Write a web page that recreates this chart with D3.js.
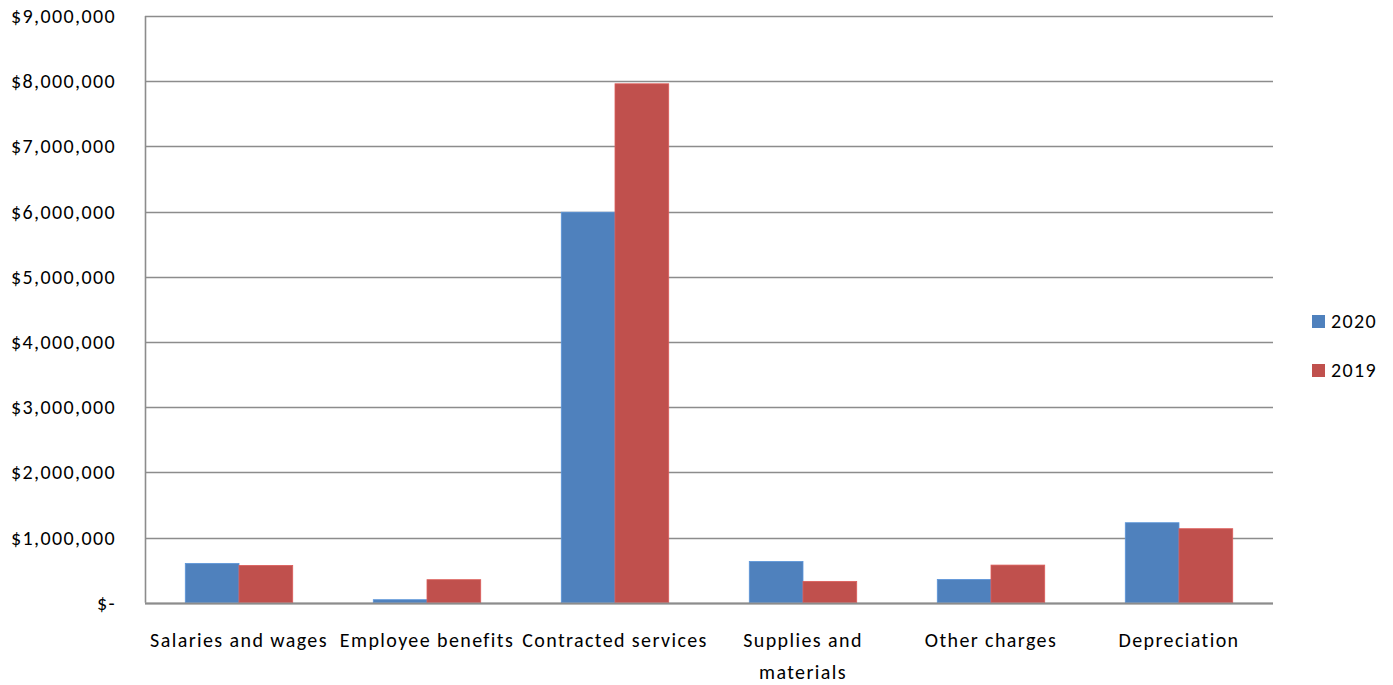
<!DOCTYPE html>
<html>
<head>
<meta charset="utf-8">
<script src="https://cdn.jsdelivr.net/npm/d3@7"></script>
<style>
  body { margin: 0; background: #fff; }
  text { font-family: "Carlito", "Liberation Sans Narrow", "Open Sans", sans-serif; fill: #000; letter-spacing: 1.4px; }
</style>
</head>
<body>
<div id="chart"></div>
<script>
// categories and series
var categories = ["Salaries and wages", "Employee benefits", "Contracted services", "Supplies and materials", "Other charges", "Depreciation"];
var labelLines = [["Salaries and wages"], ["Employee benefits"], ["Contracted services"], ["Supplies and", "materials"], ["Other charges"], ["Depreciation"]];
var seriesNames = ["2020", "2019"];
var values2020 = [603000, 46000, 5990000, 633000, 357000, 1227000];
var values2019 = [572000, 353000, 7960000, 327000, 577000, 1135000];
var yTicks = [0, 1000000, 2000000, 3000000, 4000000, 5000000, 6000000, 7000000, 8000000, 9000000];
var colors = ["#4F81BD", "#C0504D"];

var width = 1393, height = 685;
var margin = {left: 145, right: 120, top: 16, bottom: 82};

var svg = d3.select("#chart").append("svg")
  .attr("width", width)
  .attr("height", height);

var x0 = d3.scaleBand()
  .domain(categories)
  .range([margin.left, width - margin.right]);

// Excel style: gap width 150% -> bars take 2 of 3.5 units
var x1 = d3.scaleBand()
  .domain(seriesNames)
  .range([0, x0.bandwidth() * 2 / 3.5]);

var y = d3.scaleLinear()
  .domain([0, 9000000])
  .range([height - margin.bottom - 0.3, margin.top]);

var fmt = d3.format(",");

// gridlines
svg.append("g")
  .selectAll("line")
  .data(yTicks)
  .enter()
  .append("line")
  .attr("x1", margin.left)
  .attr("x2", width - margin.right)
  .attr("y1", function(d) { return Math.round(y(d)) + 0.5; })
  .attr("y2", function(d) { return Math.round(y(d)) + 0.5; })
  .attr("stroke", "#8c8c8c")
  .attr("stroke-width", 1.6);

// y axis labels
svg.append("g")
  .selectAll("text")
  .data(yTicks)
  .enter()
  .append("text")
  .attr("x", 116)
  .attr("y", function(d) { return y(d) + 7; })
  .attr("text-anchor", "end")
  .style("font-size", "20px")
  .text(function(d) { return d === 0 ? "$-" : "$" + fmt(d); });

// bars
var rows = categories.map(function(c, i) {
  return {cat: c, vals: [values2020[i], values2019[i]]};
});

var groups = svg.append("g")
  .selectAll("g")
  .data(rows)
  .enter()
  .append("g")
  .attr("transform", function(d) {
    return "translate(" + (x0(d.cat) + x0.bandwidth() * 0.75 / 3.5) + ",0)";
  });

groups.selectAll("rect")
  .data(function(d) { return d.vals.map(function(v, j) { return {name: seriesNames[j], value: v, j: j}; }); })
  .enter()
  .append("rect")
  .attr("x", function(d) { return x1(d.name); })
  .attr("width", x1.bandwidth())
  .attr("y", function(d) { return y(d.value); })
  .attr("height", function(d) { return y(0) - y(d.value); })
  .attr("fill", function(d) { return colors[d.j]; })
  .attr("stroke", function(d) { return d3.color(colors[d.j]).brighter(0.4); })
  .attr("stroke-width", 0.8);

// axis lines
svg.append("line")
  .attr("x1", margin.left + 0.5).attr("x2", margin.left + 0.5)
  .attr("y1", margin.top).attr("y2", y(0))
  .attr("stroke", "#8c8c8c").attr("stroke-width", 1.6);
svg.append("line")
  .attr("x1", margin.left).attr("x2", width - margin.right)
  .attr("y1", Math.round(y(0)) + 0.5).attr("y2", Math.round(y(0)) + 0.5)
  .attr("stroke", "#8c8c8c").attr("stroke-width", 2);

// category labels
var catLabels = svg.append("g")
  .selectAll("text")
  .data(categories)
  .enter()
  .append("text")
  .attr("x", function(d) { return x0(d) + x0.bandwidth() / 2; })
  .attr("y", 647)
  .attr("text-anchor", "middle")
  .style("font-size", "20px");

catLabels.selectAll("tspan")
  .data(function(d, i) { return labelLines[i]; })
  .enter()
  .append("tspan")
  .attr("x", function() { var p = this.parentNode; return p.getAttribute("x"); })
  .attr("dy", function(d, i) { return i === 0 ? 0 : 32; })
  .text(function(d) { return d; });

// legend
var legend = svg.append("g")
  .selectAll("g")
  .data(seriesNames)
  .enter()
  .append("g")
  .attr("transform", function(d, i) { return "translate(1312," + (315 + i * 49) + ")"; });

legend.append("rect")
  .attr("width", 13)
  .attr("height", 13)
  .attr("fill", function(d, i) { return colors[i]; });

legend.append("text")
  .attr("x", 19)
  .attr("y", 13)
  .style("font-size", "20px")
  .text(function(d) { return d; });
</script>
</body>
</html>
